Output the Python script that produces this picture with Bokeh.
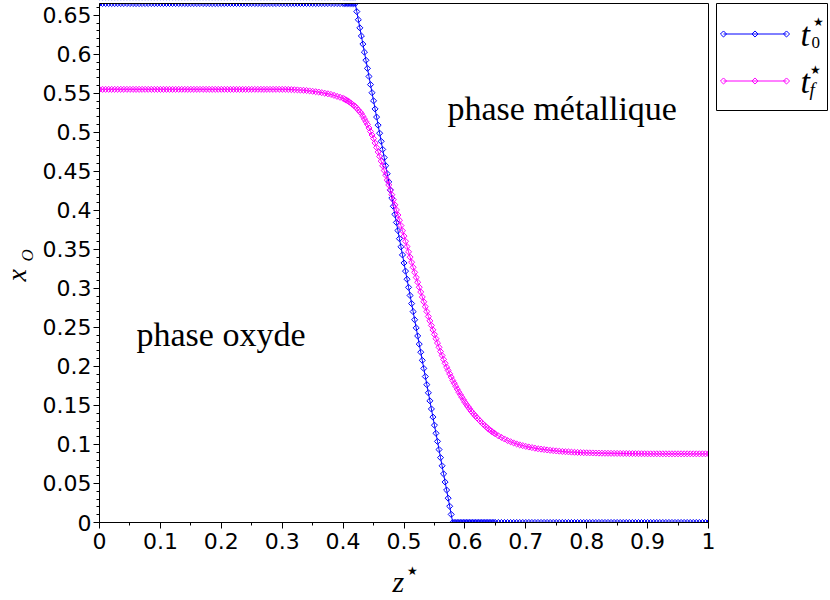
import math
from bokeh.plotting import figure
from bokeh.models import FixedTicker, Label, Range1d, BoxAnnotation
from bokeh.embed import file_html
from bokeh.resources import INLINE

# ---------------- data ----------------
# sampling positions z* (three segments)
z_a = [0.0, 0.005, 0.01, 0.015, 0.02, 0.025, 0.03, 0.035, 0.04, 0.045,
       0.05, 0.055, 0.06, 0.065, 0.07, 0.075, 0.08, 0.085, 0.09, 0.095,
       0.1, 0.105, 0.11, 0.115, 0.12, 0.125, 0.13, 0.135, 0.14, 0.145,
       0.15, 0.155, 0.16, 0.165, 0.17, 0.175, 0.18, 0.185, 0.19, 0.195,
       0.2, 0.205, 0.21, 0.215, 0.22, 0.225, 0.23, 0.235, 0.24, 0.245,
       0.25, 0.255, 0.26, 0.265, 0.27, 0.275, 0.28, 0.285, 0.29, 0.295,
       0.3, 0.305, 0.31, 0.315, 0.32, 0.325, 0.33, 0.335, 0.34, 0.345,
       0.35, 0.355, 0.36, 0.365, 0.37, 0.375, 0.38, 0.385, 0.39, 0.395]
z_b = [0.4, 0.4025, 0.405, 0.4075, 0.41, 0.4125, 0.415, 0.4175, 0.42, 0.4225,
       0.425, 0.4275, 0.43, 0.4325, 0.435, 0.4375, 0.44, 0.4425, 0.445, 0.4475,
       0.45, 0.4525, 0.455, 0.4575, 0.46, 0.4625, 0.465, 0.4675, 0.47, 0.4725,
       0.475, 0.4775, 0.48, 0.4825, 0.485, 0.4875, 0.49, 0.4925, 0.495, 0.4975,
       0.5, 0.5025, 0.505, 0.5075, 0.51, 0.5125, 0.515, 0.5175, 0.52, 0.5225,
       0.525, 0.5275, 0.53, 0.5325, 0.535, 0.5375, 0.54, 0.5425, 0.545, 0.5475,
       0.55, 0.5525, 0.555, 0.5575, 0.56, 0.5625, 0.565, 0.5675, 0.57, 0.5725,
       0.575, 0.5775, 0.58, 0.5825, 0.585, 0.5875, 0.59, 0.5925, 0.595, 0.5975,
       0.6, 0.6025, 0.605, 0.6075, 0.61, 0.6125, 0.615, 0.6175, 0.62, 0.6225,
       0.625, 0.6275, 0.63, 0.6325, 0.635, 0.6375, 0.64, 0.6425, 0.645, 0.6475,
       0.65]
z_c = [0.655, 0.66, 0.665, 0.67, 0.675, 0.68, 0.685, 0.69, 0.695,
       0.7, 0.705, 0.71, 0.715, 0.72, 0.725, 0.73, 0.735, 0.74, 0.745,
       0.75, 0.755, 0.76, 0.765, 0.77, 0.775, 0.78, 0.785, 0.79, 0.795,
       0.8, 0.805, 0.81, 0.815, 0.82, 0.825, 0.83, 0.835, 0.84, 0.845,
       0.85, 0.855, 0.86, 0.865, 0.87, 0.875, 0.88, 0.885, 0.89, 0.895,
       0.9, 0.905, 0.91, 0.915, 0.92, 0.925, 0.93, 0.935, 0.94, 0.945,
       0.95, 0.955, 0.96, 0.965, 0.97, 0.975, 0.98, 0.985, 0.99, 0.995, 1.0]

# x_O at t0* (blue)
t0_a = [0.665, 0.665, 0.665, 0.665, 0.665, 0.665, 0.665, 0.665, 0.665, 0.665,
        0.665, 0.665, 0.665, 0.665, 0.665, 0.665, 0.665, 0.665, 0.665, 0.665,
        0.665, 0.665, 0.665, 0.665, 0.665, 0.665, 0.665, 0.665, 0.665, 0.665,
        0.665, 0.665, 0.665, 0.665, 0.665, 0.665, 0.665, 0.665, 0.665, 0.665,
        0.665, 0.665, 0.665, 0.665, 0.665, 0.665, 0.665, 0.665, 0.665, 0.665,
        0.665, 0.665, 0.665, 0.665, 0.665, 0.665, 0.665, 0.665, 0.665, 0.665,
        0.665, 0.665, 0.665, 0.665, 0.665, 0.665, 0.665, 0.665, 0.665, 0.665,
        0.665, 0.665, 0.665, 0.665, 0.665, 0.665, 0.665, 0.665, 0.665, 0.665]
t0_b = [0.665, 0.665, 0.665, 0.665, 0.665, 0.665, 0.665, 0.665, 0.665, 0.6546,
        0.6442, 0.6338, 0.6234, 0.613, 0.6027, 0.5923, 0.5819, 0.5715, 0.5611, 0.5507,
        0.5403, 0.5299, 0.5195, 0.5091, 0.4988, 0.4884, 0.478, 0.4676, 0.4572, 0.4468,
        0.4364, 0.426, 0.4156, 0.4052, 0.3948, 0.3845, 0.3741, 0.3637, 0.3533, 0.3429,
        0.3325, 0.3221, 0.3117, 0.3013, 0.2909, 0.2805, 0.2702, 0.2598, 0.2494, 0.239,
        0.2286, 0.2182, 0.2078, 0.1974, 0.187, 0.1766, 0.1662, 0.1559, 0.1455, 0.1351,
        0.1247, 0.1143, 0.1039, 0.0935, 0.0831, 0.0727, 0.0623, 0.0519, 0.0416, 0.0312,
        0.0208, 0.0104, 0.0, 0.0, 0.0, 0.0, 0.0, 0.0, 0.0, 0.0,
        0.0, 0.0, 0.0, 0.0, 0.0, 0.0, 0.0, 0.0, 0.0, 0.0,
        0.0, 0.0, 0.0, 0.0, 0.0, 0.0, 0.0, 0.0, 0.0, 0.0,
        0.0]
t0_c = [0.0, 0.0, 0.0, 0.0, 0.0, 0.0, 0.0, 0.0, 0.0,
        0.0, 0.0, 0.0, 0.0, 0.0, 0.0, 0.0, 0.0, 0.0, 0.0,
        0.0, 0.0, 0.0, 0.0, 0.0, 0.0, 0.0, 0.0, 0.0, 0.0,
        0.0, 0.0, 0.0, 0.0, 0.0, 0.0, 0.0, 0.0, 0.0, 0.0,
        0.0, 0.0, 0.0, 0.0, 0.0, 0.0, 0.0, 0.0, 0.0, 0.0,
        0.0, 0.0, 0.0, 0.0, 0.0, 0.0, 0.0, 0.0, 0.0, 0.0,
        0.0, 0.0, 0.0, 0.0, 0.0, 0.0, 0.0, 0.0, 0.0, 0.0, 0.0]

# x_O at tf* (magenta)
tf_a = [0.555, 0.555, 0.555, 0.555, 0.555, 0.555, 0.555, 0.555, 0.555, 0.555,
        0.555, 0.555, 0.555, 0.555, 0.555, 0.555, 0.555, 0.555, 0.555, 0.555,
        0.555, 0.555, 0.555, 0.555, 0.555, 0.555, 0.555, 0.555, 0.555, 0.555,
        0.555, 0.555, 0.555, 0.555, 0.555, 0.555, 0.555, 0.555, 0.555, 0.555,
        0.555, 0.555, 0.555, 0.555, 0.555, 0.555, 0.555, 0.555, 0.555, 0.555,
        0.555, 0.555, 0.555, 0.555, 0.555, 0.555, 0.555, 0.555, 0.555, 0.555,
        0.555, 0.555, 0.5549, 0.5547, 0.5545, 0.5543, 0.554, 0.5538, 0.5535, 0.553,
        0.5525, 0.552, 0.5515, 0.5508, 0.55, 0.5493, 0.5485, 0.5473, 0.546, 0.5448]
tf_b = [0.5435, 0.5424, 0.5413, 0.5402, 0.539, 0.5375, 0.536, 0.5345, 0.533, 0.5308,
        0.5285, 0.5263, 0.524, 0.5205, 0.517, 0.5135, 0.51, 0.5055, 0.501, 0.4965,
        0.492, 0.4863, 0.4805, 0.4748, 0.469, 0.463, 0.457, 0.451, 0.445, 0.4388,
        0.4325, 0.4263, 0.42, 0.4135, 0.407, 0.4005, 0.394, 0.3873, 0.3805, 0.3738,
        0.367, 0.3603, 0.3535, 0.3468, 0.34, 0.3335, 0.327, 0.3205, 0.314, 0.3078,
        0.3015, 0.2953, 0.289, 0.2828, 0.2765, 0.2703, 0.264, 0.2583, 0.2525, 0.2468,
        0.241, 0.2355, 0.23, 0.2245, 0.219, 0.214, 0.209, 0.204, 0.199, 0.1948,
        0.1905, 0.1863, 0.182, 0.1783, 0.1745, 0.1708, 0.167, 0.1638, 0.1605, 0.1573,
        0.154, 0.1513, 0.1485, 0.1458, 0.143, 0.1408, 0.1385, 0.1363, 0.134, 0.132,
        0.13, 0.128, 0.126, 0.1243, 0.1225, 0.1208, 0.119, 0.1175, 0.116, 0.1148,
        0.1135]
tf_c = [0.111, 0.109, 0.107, 0.105, 0.1035, 0.102, 0.1007, 0.0995, 0.0985,
        0.0975, 0.0967, 0.096, 0.0952, 0.0945, 0.094, 0.0935, 0.093, 0.0925, 0.0921,
        0.0917, 0.0914, 0.091, 0.0907, 0.0905, 0.0902, 0.09, 0.0898, 0.0896, 0.0894,
        0.0893, 0.0892, 0.0891, 0.089, 0.0889, 0.0888, 0.0887, 0.0887, 0.0886, 0.0886,
        0.0885, 0.0885, 0.0884, 0.0884, 0.0883, 0.0883, 0.0882, 0.0882, 0.0881, 0.0881,
        0.088, 0.088, 0.088, 0.088, 0.088, 0.088, 0.088, 0.088, 0.088, 0.088,
        0.088, 0.088, 0.088, 0.088, 0.088, 0.088, 0.088, 0.088, 0.088, 0.088, 0.088]

x_ticks = [0, 0.1, 0.2, 0.3, 0.4, 0.5, 0.6, 0.7, 0.8, 0.9, 1]
x_tick_labels = ["0", "0.1", "0.2", "0.3", "0.4", "0.5", "0.6", "0.7", "0.8", "0.9", "1"]
x_minor_ticks = [0, 0.05, 0.1, 0.15, 0.2, 0.25, 0.3, 0.35, 0.4, 0.45, 0.5,
                 0.55, 0.6, 0.65, 0.7, 0.75, 0.8, 0.85, 0.9, 0.95, 1]
y_ticks = [0, 0.05, 0.1, 0.15, 0.2, 0.25, 0.3, 0.35, 0.4, 0.45, 0.5, 0.55, 0.6, 0.65]
y_tick_labels = ["0", "0.05", "0.1", "0.15", "0.2", "0.25", "0.3", "0.35",
                 "0.4", "0.45", "0.5", "0.55", "0.6", "0.65"]
y_minor_ticks = [round(i * 0.01, 2) for i in range(67)]

X_MIN, X_MAX = 0.0, 1.0
Y_MIN, Y_MAX = 0.0, 0.665

z_all = z_a + z_b + z_c
t0_all = t0_a + t0_b + t0_c
tf_all = tf_a + tf_b + tf_c

BLUE = "#0000ff"
MAGENTA = "#ff00ff"
SERIF = "Liberation Serif"
SANS = "DejaVu Sans"

# ---------------- layout (pixels -> data helpers) ----------------
W, H = 828, 598
PX_LEFT, PX_W = 99, 609          # x = 0 at pixel 99, x = 1 at pixel 708
PX_BOTTOM, PX_TOP = 522, 3        # y = 0 at pixel 522, y = 0.665 at pixel 3
sx = PX_W / (X_MAX - X_MIN)
sy = (PX_BOTTOM - PX_TOP) / (Y_MAX - Y_MIN)
BASE_FIX = 0.38                   # baseline correction, fraction of font size


def dx(px):
    return X_MIN + (px - PX_LEFT) / sx


def dy(py):
    return Y_MIN + (PX_BOTTOM - py) / sy


p = figure(width=W, height=H, output_backend="svg", toolbar_location=None,
           x_range=Range1d(dx(0), dx(W)), y_range=Range1d(dy(H), dy(0)),
           min_border=0, min_border_left=0, min_border_right=0,
           min_border_top=0, min_border_bottom=0)
p.xgrid.visible = False
p.ygrid.visible = False
p.outline_line_color = None
p.background_fill_color = "white"
p.border_fill_color = "white"

# data
p.line(z_all, t0_all, line_color=BLUE, line_width=1)
p.scatter(z_all, t0_all, marker="square", angle=math.pi / 4, size=4.3,
          fill_color=None, line_color=BLUE, line_width=1)
p.line(z_all, tf_all, line_color=MAGENTA, line_width=1)
p.scatter(z_all, tf_all, marker="square", angle=math.pi / 4, size=4.3,
          fill_color=None, line_color=MAGENTA, line_width=1)

# legend samples (line segment + three open diamonds per series)
leg_x0, leg_xm, leg_x1 = dx(723), dx(754.5), dx(786)
leg_rows = [(dy(33.5), BLUE), (dy(80.5), MAGENTA)]
p.segment(x0=[leg_x0, leg_x0], y0=[r[0] for r in leg_rows],
          x1=[leg_x1, leg_x1], y1=[r[0] for r in leg_rows],
          line_color=[r[1] for r in leg_rows], line_width=1)
p.scatter(x=[leg_x0, leg_xm, leg_x1, leg_x0, leg_xm, leg_x1],
          y=[leg_rows[0][0]] * 3 + [leg_rows[1][0]] * 3,
          marker="square", angle=math.pi / 4, size=4.3, fill_color=None,
          line_color=[BLUE] * 3 + [MAGENTA] * 3, line_width=1)

# white masks: clip the data to the plotting box
gap_right = dx(715)
for kw in (dict(left=dx(-10), right=X_MIN, bottom=dy(H + 10), top=dy(-10)),
           dict(left=X_MAX, right=gap_right, bottom=dy(H + 10), top=dy(-10)),
           dict(left=dx(-10), right=gap_right, bottom=Y_MAX, top=dy(-10)),
           dict(left=dx(-10), right=gap_right, bottom=dy(H + 10), top=Y_MIN)):
    p.add_layout(BoxAnnotation(fill_color="white", fill_alpha=1.0,
                               line_color=None, level="glyph", **kw))

# axes, drawn at fixed data positions
for ax in (p.xaxis[0], p.yaxis[0]):
    ax.fixed_location = 0
    ax.axis_line_color = "black"
    ax.major_tick_line_color = "black"
    ax.minor_tick_line_color = "black"
    ax.major_tick_in = 0
    ax.minor_tick_in = 0
    ax.major_tick_out = 6
    ax.minor_tick_out = 3
    ax.major_label_text_font = SANS
    ax.major_label_text_font_size = "22px"
    ax.major_label_text_color = "black"

p.xaxis.bounds = (X_MIN, X_MAX)
p.xaxis.ticker = FixedTicker(ticks=x_ticks, minor_ticks=x_minor_ticks)
p.xaxis.major_label_overrides = dict(zip(x_ticks, x_tick_labels))
p.xaxis.major_label_standoff = 4
p.yaxis.bounds = (Y_MIN, Y_MAX)
p.yaxis.ticker = FixedTicker(ticks=y_ticks, minor_ticks=y_minor_ticks)
p.yaxis.major_label_overrides = dict(zip(y_ticks, y_tick_labels))
p.yaxis.major_label_standoff = 2

# plotting box outline
p.add_layout(BoxAnnotation(left=X_MIN, right=X_MAX, bottom=Y_MIN, top=Y_MAX,
                           fill_color=None, fill_alpha=0.0,
                           line_color="black", line_alpha=1.0, line_width=1))


def text(px, py, s, size, font=SERIF, style="normal", align="left", rotated=False):
    """px, py: wanted pixel position of the alphabetic baseline start."""
    fix = BASE_FIX * size
    if rotated:
        lab = Label(x=dx(px - fix), y=dy(py), angle=math.pi / 2)
    else:
        lab = Label(x=dx(px), y=dy(py - fix))
    lab.text = s
    lab.text_font = font
    lab.text_font_style = style
    lab.text_font_size = f"{size}px"
    lab.text_color = "black"
    lab.text_align = align
    lab.text_baseline = "alphabetic"
    p.add_layout(lab)


# region annotations
text(447, 121, "phase métallique", 34)
text(136, 347, "phase oxyde", 34)

# axis titles
text(392, 592, "z", 30, style="italic")
text(412, 575, "★", 12, font=SANS, align="center")
text(27, 281, "x", 28, style="italic", rotated=True)
text(33, 261, "O", 17, style="italic", rotated=True)

# legend box
p.add_layout(BoxAnnotation(left=dx(716), right=dx(827), bottom=dy(110), top=dy(3),
                           fill_color=None, fill_alpha=0.0,
                           line_color="black", line_alpha=1.0, line_width=1))

text(800, 47, "t", 34, style="italic")
text(818, 26, "★", 12, font=SANS, align="center")
text(811, 48, "0", 17)
text(800, 94, "t", 34, style="italic")
text(815, 74, "★", 12, font=SANS, align="center")
text(809, 96, "f", 19, style="italic")

open("out.html", "w").write(file_html(p, INLINE))
